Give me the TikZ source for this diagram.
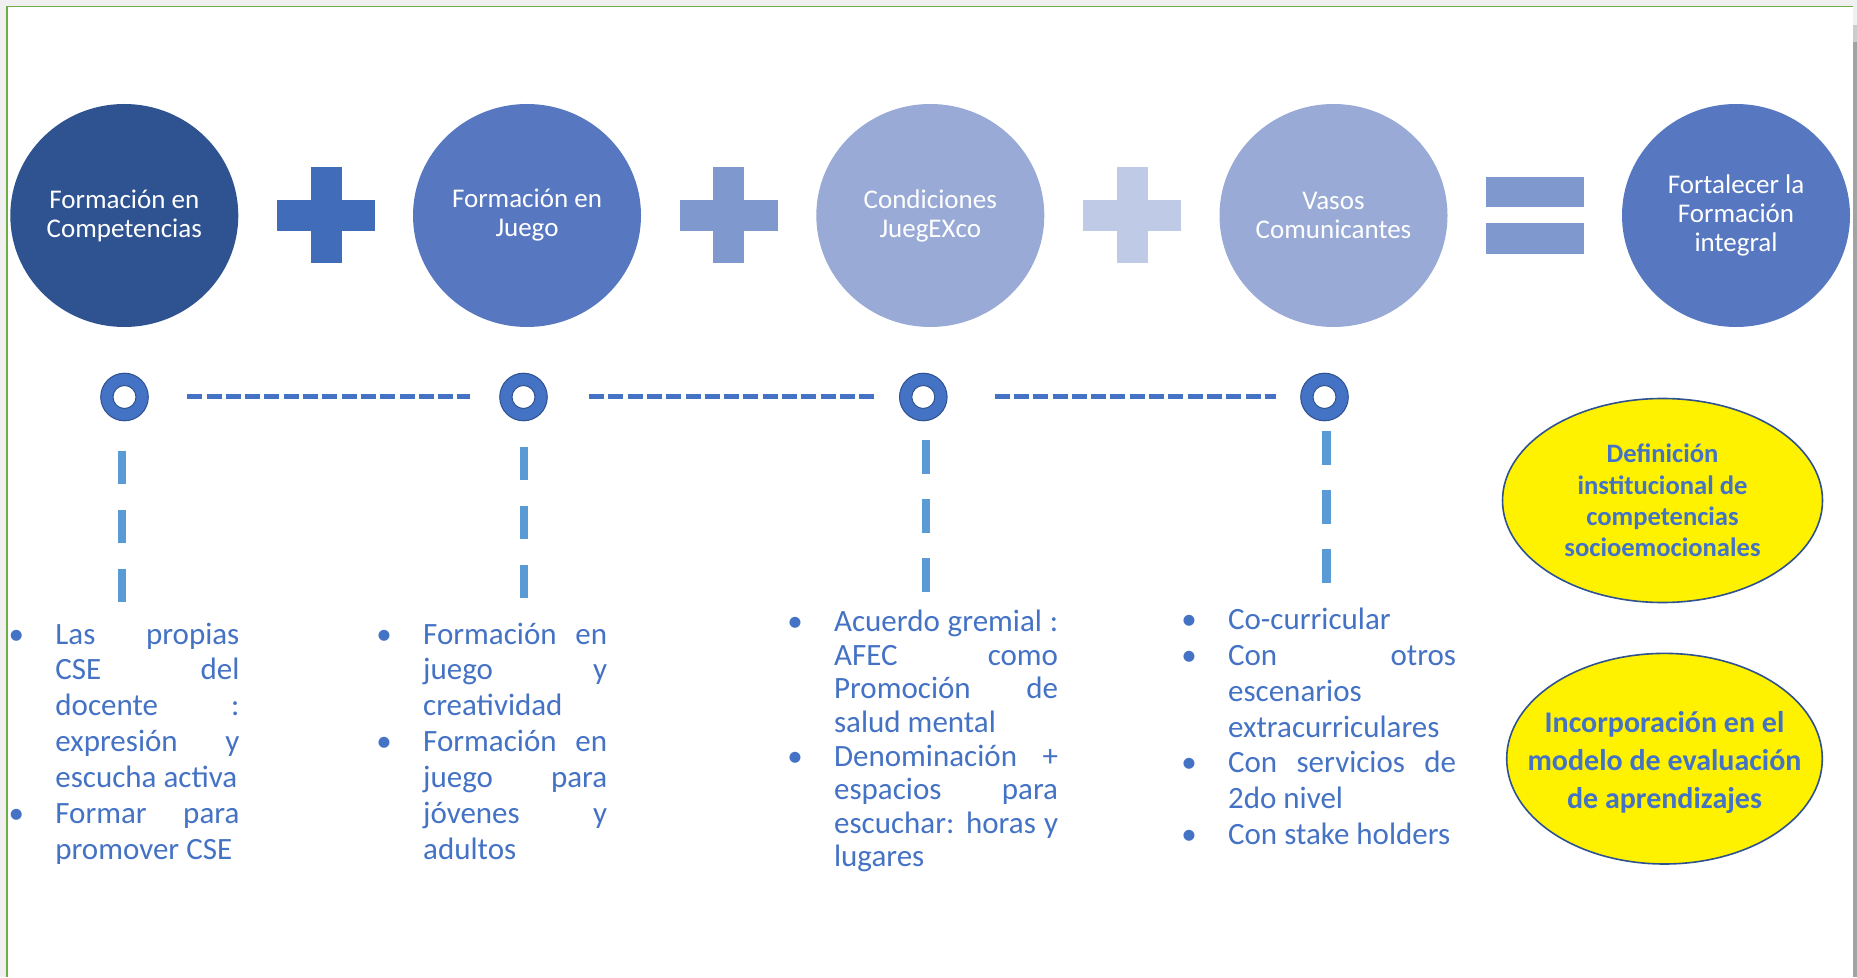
\documentclass[tikz,border=0pt]{standalone}
\usepackage{fontspec}
\setmainfont{Carlito}
\usepackage{tikz}
\usetikzlibrary{shapes.geometric, positioning, calc}

\definecolor{azulosc}{HTML}{2F5390}
\definecolor{azulmed}{HTML}{5778C1}
\definecolor{azulcla}{HTML}{98AAD5}
\definecolor{masA}{HTML}{416CBA}
\definecolor{masB}{HTML}{7F99CE}
\definecolor{masC}{HTML}{BFCAE6}
\definecolor{texto}{HTML}{4472C4}
\definecolor{borde}{HTML}{2F528F}
\definecolor{vert}{HTML}{5B9BD5}
\definecolor{marco}{HTML}{70AD47}

\newlength{\colw}
\newcommand{\jl}[1]{\makebox[\colw][s]{#1}}
\newcommand{\bu}{\llap{\makebox[0pt]{\textbullet}\hspace{19.5pt}}}

\begin{document}
\begin{tikzpicture}[x=0.5pt,y=-0.5pt,
    circulo/.style={ellipse, minimum width=114pt, minimum height=111.5pt, inner sep=0pt,
        text=white, align=center, font=\fontsize{13.5}{14.5}\selectfont},
    anillo/.style={circle, minimum size=23.8pt, inner sep=0pt, fill=texto, draw=borde, line width=0.5pt,
        path picture={\fill[white, draw=borde, line width=0.5pt] (path picture bounding box.center) circle (5.75pt);}},
    horiz/.style={draw=texto, line width=2.5pt, dash pattern=on 7.5pt off 2.15pt},
    vertic/.style={draw=vert, line width=4.15pt, dash pattern=on 16.75pt off 12.75pt},
    lista/.style={anchor=base west, inner sep=0pt, text=texto, font=\fontsize{15.5}{17.95}\selectfont},
    meta/.style={ellipse, fill=yellow, draw=borde, line width=0.8pt, inner sep=0pt},
    metatexto/.style={align=center, inner sep=0pt, text=texto}
]
    % fondo y marco
    \fill[black!6] (0,0) rectangle (1857,977);
    \fill[white] (7,6.5) rectangle (1853,977);
    \fill[black!20] (1853,25) rectangle (1857,42);
    \fill[black!36] (1853,42) rectangle (1857,977);
    \draw[marco, line width=0.7pt] (7,977) -- (7,6.5) -- (1853,6.5);
    \useasboundingbox (0,0) rectangle (1857,977);

    % circulos de arriba
    \node[circulo, fill=azulosc] (c1) at (124.3,215.5) {Formación en\\Competencias};
    \node[circulo, fill=azulmed] (c2) at (527,215.5) {Formación en\\Juego};
    \node[circulo, fill=azulcla] (c3) at (930.3,215.5) {Condiciones\\JuegEXco};
    \node[circulo, fill=azulcla] (c4) at (1333.5,215.5) {Vasos\\Comunicantes};
    \node[circulo, fill=azulmed] (c5) at (1736,215.5) {Fortalecer la\\Formación\\integral};

    % signos + y =
    \foreach \x/\col in {326/masA, 728.8/masB, 1132/masC} {
        \fill[\col] (\x-49,199.7) rectangle (\x+49,230.7);
        \fill[\col] (\x-15.5,167) rectangle (\x+15.5,263);
    }
    \fill[masB] (1486,176.7) rectangle (1584,207.3);
    \fill[masB] (1486,222.7) rectangle (1584,254);

    % linea de tiempo
    \node[anillo] (r1) at (124.5,397) {};
    \node[anillo] (r2) at (523.5,397) {};
    \node[anillo] (r3) at (923.3,397) {};
    \node[anillo] (r4) at (1324.5,397) {};
    \draw[horiz, shorten <=19.2pt, shorten >=14.85pt] (r1) -- (r2);
    \draw[horiz, shorten <=20.6pt, shorten >=12.7pt] (r2) -- (r3);
    \draw[horiz, shorten <=23.5pt, shorten >=12pt] (r3) -- (r4);

    \coordinate (v1) at (121.8,602.3);
    \coordinate (v2) at (524,598);
    \coordinate (v3) at (926,592.3);
    \coordinate (v4) at (1326.5,582.7);
    \draw[vertic, shorten <=14.85pt] (v1 |- r1.south) -- (v1);
    \draw[vertic, shorten <=12.75pt] (v2 |- r2.south) -- (v2);
    \draw[vertic, shorten <=9.5pt] (v3 |- r3.south) -- (v3);
    \draw[vertic, shorten <=5pt] (v4 |- r4.south) -- (v4);

    % listas
    \node[lista] (l1) at (55,644) {\setlength{\colw}{92pt}\begin{tabular}[t]{@{}l@{}}
        \bu\jl{Las propias}\\ \jl{CSE del}\\ \jl{docente :}\\ \jl{expresión y}\\ escucha activa\\
        \bu\jl{Formar para}\\ promover CSE
    \end{tabular}};
    \node[lista] (l2) at (422.8,644) {\setlength{\colw}{92pt}\begin{tabular}[t]{@{}l@{}}
        \bu\jl{Formación en}\\ \jl{juego y}\\ creatividad\\
        \bu\jl{Formación en}\\ \jl{juego para}\\ \jl{jóvenes y}\\ adultos
    \end{tabular}};
    \node[lista, font=\fontsize{15.5}{16.8}\selectfont] (l3) at (833.7,631.7) {\setlength{\colw}{112pt}\begin{tabular}[t]{@{}l@{}}
        \bu\jl{Acuerdo gremial :}\\ \jl{AFEC como}\\ \jl{Promoción de}\\ salud mental\\
        \bu\jl{Denominación +}\\ \jl{espacios para}\\ \jl{escuchar: horas y}\\ lugares
    \end{tabular}};
    \node[lista] (l4) at (1227.7,629.3) {\setlength{\colw}{114pt}\begin{tabular}[t]{@{}l@{}}
        \bu Co-curricular\\
        \bu\jl{Con otros}\\ escenarios\\ extracurriculares\\
        \bu\jl{Con servicios de}\\ 2do nivel\\
        \bu Con stake holders
    \end{tabular}};

    % elipses amarillas
    \node[meta, minimum width=160pt, minimum height=102pt] (m1) at (1662.5,500.5) {};
    \node[metatexto, font=\bfseries\fontsize{13.3}{15.65}\selectfont] (m1t) at (m1) {Definición\\institucional de\\competencias\\socioemocionales};
    \node[meta, minimum width=157.8pt, minimum height=105.3pt] (m2) at (1664.5,758.7) {};
    \node[metatexto, font=\bfseries\fontsize{15}{19}\selectfont, yshift=-1.8pt] (m2t) at (m2) {Incorporación en el\\modelo de evaluación\\de aprendizajes};
\end{tikzpicture}
\end{document}
